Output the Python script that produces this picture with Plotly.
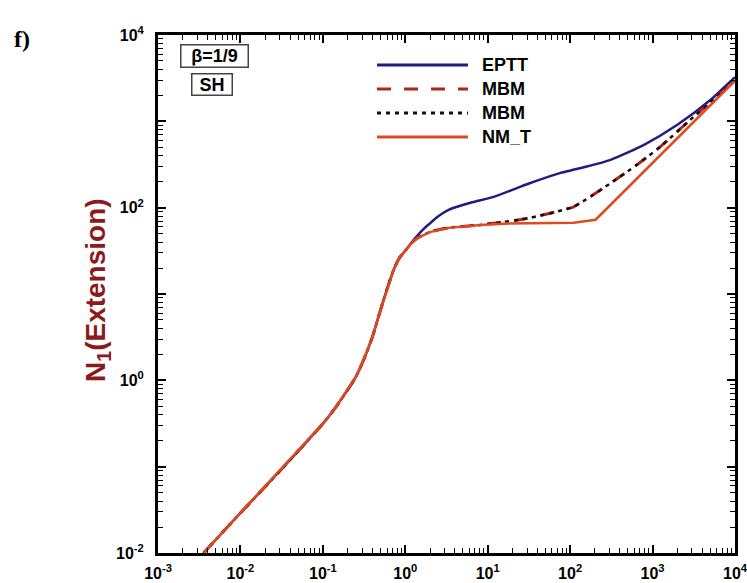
import plotly.graph_objects as go

# ---- data (log10 values) ----
low_logx = [-2.448, -1.999, -1.477, -0.992, -0.850, -0.700, -0.600, -0.506, -0.400, -0.300,
            -0.220, -0.142, -0.070, 0.000, 0.064]
low_logy = [-2.000, -1.536, -1.003, -0.493, -0.320, -0.111, 0.040, 0.236, 0.500, 0.816,
            1.060, 1.279, 1.420, 1.500, 1.580]

eptt_logx = [0.150, 0.230, 0.307, 0.400, 0.525, 0.800, 1.072, 1.500, 1.885, 2.091, 2.491,
             2.896, 3.301, 3.705, 3.988, 4.0]
eptt_logy = [1.680, 1.760, 1.824, 1.900, 1.975, 2.060, 2.125, 2.280, 2.403, 2.450, 2.554,
             2.728, 2.960, 3.250, 3.500, 3.51]

nmt_logx = [0.150, 0.307, 0.525, 0.913, 1.193, 1.600, 1.885, 2.042, 2.309, 3.988, 4.0]
nmt_logy = [1.650, 1.720, 1.766, 1.800, 1.815, 1.820, 1.820, 1.824, 1.860, 3.460, 3.47]

mbm_logx = [0.150, 0.307, 0.525, 0.913, 1.193, 1.400, 1.600, 1.920, 2.042, 2.250, 2.491,
            2.800, 3.099, 3.502, 3.988, 4.0]
mbm_logy = [1.650, 1.720, 1.766, 1.800, 1.835, 1.862, 1.900, 1.975, 2.010, 2.130, 2.284,
            2.490, 2.710, 3.056, 3.460, 3.47]

x_tick_exp = [-3, -2, -1, 0, 1, 2, 3, 4]
y_tick_exp = [-2, -1, 0, 1, 2, 3, 4]
y_label_exp = [-2, 0, 2, 4]

legend_names = ["EPTT", "MBM", "MBM", "NM_T"]

def to_lin(lx, ly):
    return [10 ** v for v in lx], [10 ** v for v in ly]

ex, ey = to_lin(low_logx + eptt_logx, low_logy + eptt_logy)
nx, ny = to_lin(low_logx + nmt_logx, low_logy + nmt_logy)
mx, my = to_lin(low_logx + mbm_logx, low_logy + mbm_logy)

C_BLUE = "#1e1e80"
C_RED = "#de4b1f"
C_DRED = "#b3231c"
C_DOT = "#111111"

fig = go.Figure()
fig.add_trace(go.Scatter(x=ex, y=ey, mode="lines", name="EPTT",
                         line=dict(color=C_BLUE, width=2.5, shape="spline", smoothing=0.6),
                         showlegend=False))
fig.add_trace(go.Scatter(x=mx, y=my, mode="lines", name="MBM",
                         line=dict(color=C_DRED, width=3, dash="14px,13px", shape="spline", smoothing=0.6),
                         showlegend=False))
fig.add_trace(go.Scatter(x=mx, y=my, mode="lines", name="MBM",
                         line=dict(color=C_DOT, width=2.5, dash="4px,5px", shape="spline", smoothing=0.6),
                         showlegend=False))
fig.add_trace(go.Scatter(x=nx, y=ny, mode="lines", name="NM_T",
                         line=dict(color=C_RED, width=2.5), showlegend=False))

tickfont = dict(family="Liberation Sans, Arial", size=16, color="black", weight="bold")

def minor_vals(e0, e1):
    return [k * 10 ** e for e in range(e0, e1) for k in range(2, 10)]

common = dict(
    type="log", tickmode="array",
    ticks="inside", ticklen=8, tickwidth=2, tickcolor="black",
    showline=True, linewidth=3, linecolor="black", mirror="allticks",
    showgrid=False, zeroline=False, tickfont=tickfont, automargin=False,
    ticklabeloverflow="allow",
)

fig.update_xaxes(
    range=[-3, 4],
    tickvals=[10 ** e for e in x_tick_exp],
    ticktext=["10<sup>%d</sup>" % e for e in x_tick_exp],
    minor=dict(tickmode="array", tickvals=minor_vals(-3, 4), ticks="inside",
               ticklen=5, tickwidth=1, tickcolor="black", showgrid=False),
    ticklabelstandoff=4, **common,
)
fig.update_yaxes(
    range=[-2, 4],
    tickvals=[10 ** e for e in y_tick_exp],
    ticktext=[("10<sup>%d</sup>" % e) if e in y_label_exp else "" for e in y_tick_exp],
    minor=dict(tickmode="array", tickvals=minor_vals(-2, 4), ticks="inside",
               ticklen=5, tickwidth=1, tickcolor="black", showgrid=False),
    ticklabelstandoff=8, **common,
)

W, H = 747, 583
L, R, T, B = 158, 12, 35, 30
PW, PH = W - L - R, H - T - B

def px(xp):
    return (xp - L) / PW

def py(yp):
    return (H - B - yp) / PH

annotations = [
    dict(text="<b>f)</b>", x=px(22), y=py(39), xref="paper", yref="paper",
         xanchor="center", yanchor="middle", showarrow=False,
         font=dict(family="Liberation Serif, Times New Roman", size=24, color="black")),
    dict(text="<b>β=1/9</b>", x=px(214), y=py(56.5), xref="paper", yref="paper",
         xanchor="center", yanchor="middle",
         showarrow=False, width=64, height=19, bordercolor="#444", borderwidth=1.5, borderpad=1,
         bgcolor="white", font=dict(family="Liberation Sans, Arial", size=18, color="black")),
    dict(text="<b>SH</b>", x=px(211.5), y=py(84), xref="paper", yref="paper",
         xanchor="center", yanchor="middle",
         showarrow=False, width=37, height=18, bordercolor="#444", borderwidth=1.5, borderpad=1,
         bgcolor="white", font=dict(family="Liberation Sans, Arial", size=18, color="black")),
    dict(text="<b>N<sub>1</sub>(Extension)</b>", x=px(97), y=py(290), xref="paper", yref="paper",
         showarrow=False, textangle=-90, xanchor="center", yanchor="middle",
         font=dict(family="Liberation Sans, Arial", size=28, color="#8b1a1a")),
]

legend_rows = [65, 89, 113, 137]
legend_styles = [dict(color=C_BLUE, width=3, dash="solid"),
                 dict(color=C_DRED, width=3, dash="14px,13px"),
                 dict(color=C_DOT, width=3, dash="4px,5px"),
                 dict(color=C_RED, width=3, dash="solid")]
shapes = []
for name, row, st in zip(legend_names, legend_rows, legend_styles):
    shapes.append(dict(type="line", xref="paper", yref="paper",
                       x0=px(377), x1=px(468), y0=py(row), y1=py(row), line=st))
    annotations.append(dict(text="<b>%s</b>" % name, x=px(480), y=py(row), xref="paper", yref="paper",
                            xanchor="left", yanchor="middle", showarrow=False,
                            font=dict(family="Liberation Sans, Arial", size=18, color="black")))

fig.update_layout(
    width=W, height=H,
    margin=dict(l=L, r=R, t=T, b=B, pad=0),
    paper_bgcolor="white", plot_bgcolor="white",
    annotations=annotations, shapes=shapes, showlegend=False,
)

fig.write_html("out.html")
